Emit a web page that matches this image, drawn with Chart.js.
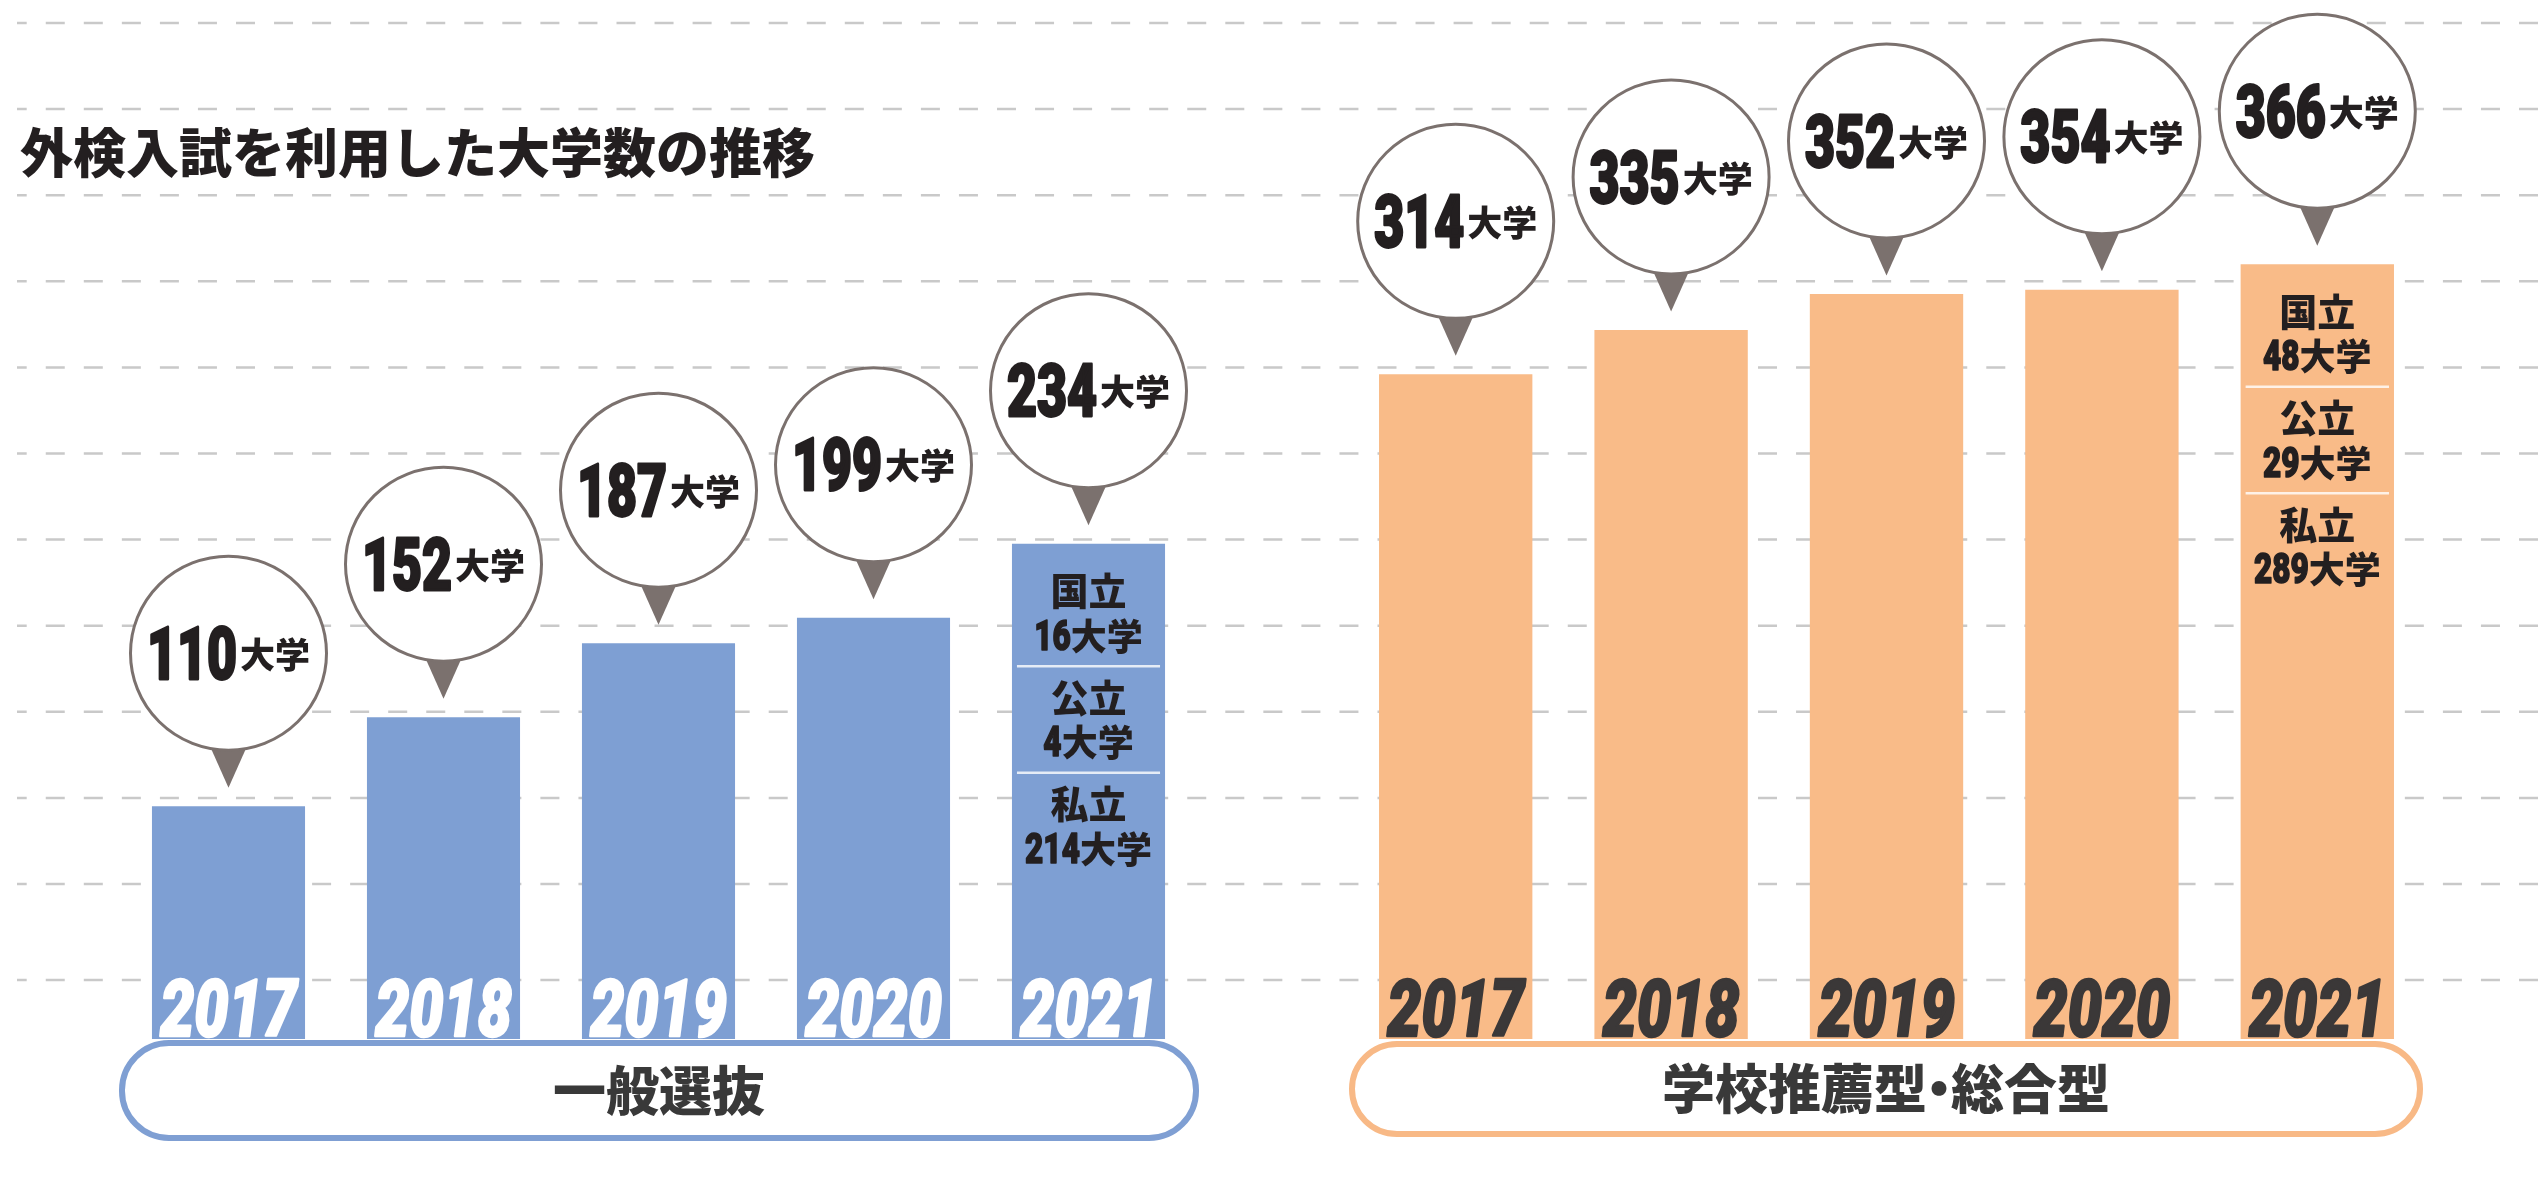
<!DOCTYPE html>
<html lang="ja">
<head>
    <meta charset="UTF-8">
    <title>外検入試を利用した大学数の推移</title>
    <style>
        body {
            margin: 0;
            width: 2538px;
            height: 1183px;
            overflow: hidden;
            position: relative;
            background: #fff;
            font-family: "Noto Sans CJK JP", sans-serif;
        }

        .panel {
            position: absolute;
            top: 0;
            width: 1269px;
            height: 1183px;
        }

        #generalPanel { left: 0; }
        #recommendPanel { left: 1269px; }

        .title {
            position: absolute;
            left: 20px;
            top: 124px;
            font-size: 53px;
            line-height: 53px;
            font-weight: 900;
            color: #231f20;
            white-space: nowrap;
            z-index: 2;
        }

        .pill {
            position: absolute;
            box-sizing: border-box;
            background: #fff;
            border: 6px solid;
            border-radius: 50px;
            display: flex;
            align-items: center;
            justify-content: center;
            font-size: 53px;
            font-weight: 900;
            color: #393939;
            padding-bottom: 6px;
            white-space: nowrap;
            z-index: 2;
        }

        .pill.general {
            left: 119px;
            top: 1040px;
            width: 1080px;
            height: 101px;
            border-color: #7f9fd3;
        }

        .pill.recommend {
            left: 1349px;
            top: 1041px;
            width: 1074px;
            height: 96px;
            border-color: #f8b986;
        }

        /* 中黒は詰める */
        .dot { margin: 0 -14.5px; }
    </style>
    <script src="https://cdn.jsdelivr.net/npm/chart.js"></script>
</head>
<body>
    <div class="title">外検入試を利用した大学数の推移</div>

    <div class="panel" id="generalPanel">
        <canvas id="generalChart" width="1269" height="1183"></canvas>
    </div>
    <div class="panel" id="recommendPanel">
        <canvas id="recommendChart" width="1269" height="1183"></canvas>
    </div>

    <div class="pill general">一般選抜</div>
    <div class="pill recommend">学校推薦型<span class="dot">・</span>総合型</div>

    <script>
        // --- Daten ---
        const YEARS = ['2017', '2018', '2019', '2020', '2021'];
        const GENERAL_COUNTS = [110, 152, 187, 199, 234];
        const RECOMMEND_COUNTS = [314, 335, 352, 354, 366];
        const BREAKDOWN_TYPES = ['国立', '公立', '私立'];
        const GENERAL_BREAKDOWN = [16, 4, 214];
        const RECOMMEND_BREAKDOWN = [48, 29, 289];
        const UNIT = '大学';

        const INK = '#231f20';
        const DIGIT_FONT = 'Roboto, "Liberation Sans", sans-serif';
        const KANJI_FONT = '"Noto Sans CJK JP", sans-serif';
        const BALLOON_LINE = '#7b716e';

        // "110大学" – schmale, fette Ziffern + 大学, zentriert um (x, y)
        function drawCount(ctx, x, y, num, numSize, stretch, unitSize, gap) {
            ctx.font = `900 ${numSize}px ${DIGIT_FONT}`;
            const nw = ctx.measureText(num).width * stretch;
            ctx.font = `900 ${unitSize}px ${KANJI_FONT}`;
            const uw = ctx.measureText(UNIT).width;
            const left = x - (nw + gap + uw) / 2;

            ctx.textAlign = 'left';
            ctx.textBaseline = 'alphabetic';
            ctx.fillStyle = INK;
            ctx.strokeStyle = INK;
            ctx.lineJoin = 'round';

            ctx.save();
            ctx.translate(left, y + numSize * 0.711 / 2);
            ctx.scale(stretch, 1);
            ctx.font = `900 ${numSize}px ${DIGIT_FONT}`;
            ctx.fillText(num, 0, 0);
            ctx.lineWidth = numSize / 26;
            ctx.strokeText(num, 0, 0);
            ctx.restore();

            ctx.font = `900 ${unitSize}px ${KANJI_FONT}`;
            ctx.fillText(UNIT, left + nw + gap, y + unitSize * 0.42);
        }

        const panelPlugin = {
            id: 'panel',
            beforeDatasetsDraw(chart, args, opts) {
                // gestrichelte Linien über die ganze Breite
                const ctx = chart.ctx;
                const rule = chart.scales.yRule;
                ctx.save();
                ctx.strokeStyle = '#c9c9c9';
                ctx.lineWidth = 2.5;
                ctx.setLineDash([19, 19.05]);
                ctx.lineDashOffset = opts.dashOffset;
                rule.ticks.forEach(t => {
                    const y = rule.getPixelForValue(t.value);
                    ctx.beginPath();
                    ctx.moveTo(opts.lineStart, y);
                    ctx.lineTo(chart.width, y);
                    ctx.stroke();
                });
                ctx.restore();
            },
            afterDatasetsDraw(chart, args, opts) {
                const ctx = chart.ctx;
                const meta = chart.getDatasetMeta(0);
                const values = chart.data.datasets[0].data;

                meta.data.forEach((bar, i) => {
                    // Jahr unten im Balken
                    ctx.save();
                    ctx.translate(bar.x, bar.base - 3);
                    ctx.scale(0.77, 1);
                    ctx.font = `italic 900 79px ${DIGIT_FONT}`;
                    ctx.textAlign = 'center';
                    ctx.textBaseline = 'alphabetic';
                    ctx.fillStyle = opts.yearColor;
                    ctx.strokeStyle = opts.yearColor;
                    ctx.lineWidth = 2.5;
                    ctx.lineJoin = 'round';
                    ctx.fillText(chart.data.labels[i], 0, 0);
                    ctx.strokeText(chart.data.labels[i], 0, 0);
                    ctx.restore();

                    // Sprechblase
                    const cy = bar.y - 153;
                    ctx.save();
                    ctx.fillStyle = BALLOON_LINE;
                    ctx.beginPath();
                    ctx.moveTo(bar.x - 18.5, bar.y - 60);
                    ctx.lineTo(bar.x + 18.5, bar.y - 60);
                    ctx.lineTo(bar.x, bar.y - 18.5);
                    ctx.closePath();
                    ctx.fill();

                    ctx.beginPath();
                    ctx.ellipse(bar.x, cy, 98, 97, 0, 0, Math.PI * 2);
                    ctx.fillStyle = '#fff';
                    ctx.fill();
                    ctx.lineWidth = 3;
                    ctx.strokeStyle = BALLOON_LINE;
                    ctx.stroke();

                    drawCount(ctx, bar.x, cy, String(values[i]), 72, 0.72, 35, 3);
                    ctx.restore();
                });

                // Aufschlüsselung im letzten Balken
                const last = meta.data[meta.data.length - 1];
                const step = 106.5;
                ctx.save();
                BREAKDOWN_TYPES.forEach((type, k) => {
                    const top = last.y + k * step;
                    ctx.font = `900 38px ${KANJI_FONT}`;
                    ctx.textAlign = 'center';
                    ctx.textBaseline = 'alphabetic';
                    ctx.fillStyle = INK;
                    ctx.fillText(type, last.x, top + 47 + 38 * 0.38);
                    drawCount(ctx, last.x, top + 91, String(opts.breakdown[k]), 42, 0.75, 36, 0);

                    if (k < BREAKDOWN_TYPES.length - 1) {
                        ctx.strokeStyle = opts.sepColor;
                        ctx.lineWidth = 2.5;
                        ctx.beginPath();
                        ctx.moveTo(last.x - last.width / 2 + 5, top + 122.5);
                        ctx.lineTo(last.x + last.width / 2 - 5, top + 122.5);
                        ctx.stroke();
                    }
                });
                ctx.restore();
            }
        };

        function makePanel(canvasId, counts, settings) {
            return new Chart(document.getElementById(canvasId), {
                type: 'bar',
                data: {
                    labels: YEARS,
                    datasets: [{
                        data: counts,
                        backgroundColor: settings.barColor,
                        borderWidth: 0,
                        categoryPercentage: 1,
                        barPercentage: 0.712
                    }]
                },
                options: {
                    responsive: false,
                    animation: false,
                    events: [],
                    layout: { padding: settings.padding },
                    plugins: {
                        legend: { display: false },
                        tooltip: { enabled: false },
                        panel: {
                            yearColor: settings.yearColor,
                            sepColor: settings.sepColor,
                            breakdown: settings.breakdown,
                            lineStart: settings.lineStart,
                            dashOffset: settings.dashOffset
                        }
                    },
                    scales: {
                        x: { display: false },
                        y: { display: false, min: 0, max: 480 },
                        // Hilfsachse nur für die Linierung
                        yRule: {
                            type: 'linear',
                            axis: 'y',
                            position: 'left',
                            display: false,
                            reverse: true,
                            min: 0,
                            max: 11.8,
                            afterBuildTicks: scale => {
                                scale.ticks = [0, 1, 2, 3, 4, 5, 6, 7, 8, 9, 10, 11.115].map(v => ({ value: v }));
                            }
                        }
                    }
                },
                plugins: [panelPlugin]
            });
        }

        makePanel('generalChart', GENERAL_COUNTS, {
            barColor: '#7e9fd3',
            yearColor: '#ffffff',
            sepColor: 'rgba(255, 255, 255, 0.8)',
            breakdown: GENERAL_BREAKDOWN,
            padding: { left: 121, right: 73, top: 23, bottom: 144 },
            lineStart: 17,
            dashOffset: 9.3
        });

        makePanel('recommendChart', RECOMMEND_COUNTS, {
            barColor: '#f9bb88',
            yearColor: '#3b3838',
            sepColor: 'rgba(255, 255, 255, 0.8)',
            breakdown: RECOMMEND_BREAKDOWN,
            padding: { left: 79, right: 113, top: 23, bottom: 144 },
            lineStart: 0,
            dashOffset: 5.65
        });
    </script>
</body>
</html>
